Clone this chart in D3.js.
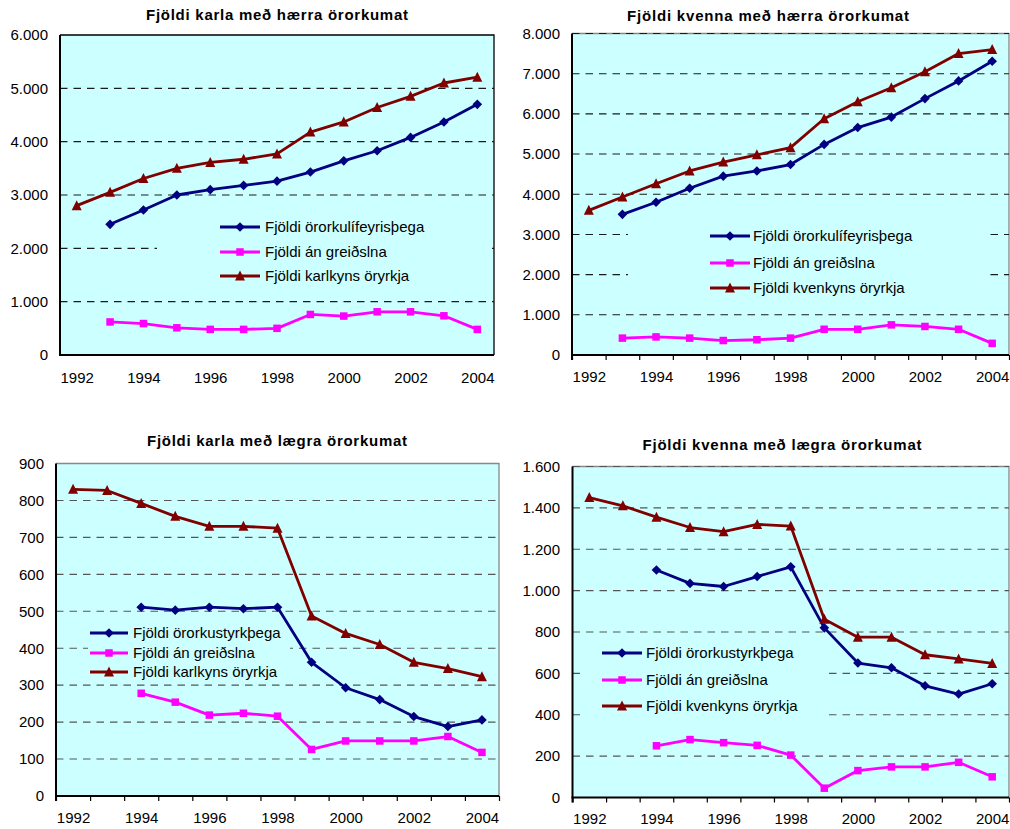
<!DOCTYPE html>
<html><head><meta charset="utf-8">
<script src="https://cdn.jsdelivr.net/npm/d3@7"></script>
<style>body{margin:0;background:#fff}svg{display:block}text{font-family:"Liberation Sans",Arial,sans-serif}</style>
</head><body>
<script>
// ---- data ----
const years = [1992,1993,1994,1995,1996,1997,1998,1999,2000,2001,2002,2003,2004];
const xLabelYears = [1992,1994,1996,1998,2000,2002,2004];

const titles = [
  "Fjöldi karla með hærra örorkumat",
  "Fjöldi kvenna með hærra örorkumat",
  "Fjöldi karla með lægra örorkumat",
  "Fjöldi kvenna með lægra örorkumat"
];
const legendKarlHaerra = ["Fjöldi örorkulífeyrisþega","Fjöldi án greiðslna","Fjöldi karlkyns öryrkja"];
const legendKvenHaerra = ["Fjöldi örorkulífeyrisþega","Fjöldi án greiðslna","Fjöldi kvenkyns öryrkja"];
const legendKarlLaegra = ["Fjöldi örorkustyrkþega","Fjöldi án greiðslna","Fjöldi karlkyns öryrkja"];
const legendKvenLaegra = ["Fjöldi örorkustyrkþega","Fjöldi án greiðslna","Fjöldi kvenkyns öryrkja"];

// Panel 1: karlar, hærra örorkumat
const karlHaerraLifeyri = [null,2450,2720,3000,3100,3180,3260,3430,3640,3830,4080,4370,4700];
const karlHaerraAnGreidslna = [null,620,590,510,480,480,500,760,730,810,810,735,480];
const karlHaerraOryrkjar = [2800,3050,3310,3500,3610,3670,3770,4180,4370,4640,4850,5100,5210];
// Panel 2: konur, hærra örorkumat
const kvenHaerraLifeyri = [null,3500,3800,4150,4450,4580,4740,5240,5660,5920,6380,6820,7310];
const kvenHaerraAnGreidslna = [null,420,450,420,360,380,420,640,640,750,710,640,290];
const kvenHaerraOryrkjar = [3600,3930,4260,4580,4800,4980,5160,5880,6300,6650,7050,7500,7600];
// Panel 3: karlar, lægra örorkumat
const karlLaegraStyrk = [null,null,511,503,511,507,511,362,293,261,215,188,206];
const karlLaegraAnGreidslna = [null,null,278,254,219,224,216,126,149,149,149,161,118];
const karlLaegraOryrkjar = [830,827,792,757,730,730,725,487,440,410,362,345,323];
// Panel 4: konur, lægra örorkumat
const kvenLaegraStyrk = [null,null,1100,1035,1020,1068,1115,820,650,627,540,500,550];
const kvenLaegraAnGreidslna = [null,null,250,280,265,252,205,45,130,148,148,170,100];
const kvenLaegraOryrkjar = [1450,1410,1355,1305,1285,1320,1312,862,775,775,690,670,648];

const yMax = [6000, 8000, 900, 1600];
const yStep = [1000, 1000, 100, 200];

// ---- styles ----
const colors = ["#000080","#FF00FF","#800000"];

// ---- layout ----
const layout = [
  {x0:60, x1:494, y0:35, y1:355, tcx:277, tby:20, tlen:262, ylr:48, xlb:383, xticks:false, border:"#000", topGrid:false,
   lg:{bx:157, by:205, bw:331, bh:90, sx0:220, sx1:260, tx:265, rows:[227,252,276]}},
  {x0:572, x1:1009, y0:33.5, y1:355, tcx:768, tby:20.5, tlen:282, ylr:560, xlb:382, xticks:true, border:"#888", topGrid:true,
   lg:{bx:628, by:214, bw:362, bh:88, sx0:710, sx1:750, tx:753, rows:[236,263,288]}},
  {x0:56, x1:499, y0:463.5, y1:796, tcx:277, tby:446, tlen:260, ylr:44, xlb:823, xticks:true, border:"#888", topGrid:false,
   lg:{bx:88, by:621, bw:202, bh:62, sx0:90, sx1:128, tx:133, rows:[633,653,672]}},
  {x0:572.5, x1:1009, y0:466.5, y1:797.5, tcx:782, tby:450, tlen:279, ylr:560, xlb:824, xticks:true, border:"#888", topGrid:true,
   lg:{bx:582, by:641, bw:243, bh:78, sx0:602, sx1:642, tx:646, rows:[653,680,706]}}
];

const panelSeries = [
  [karlHaerraLifeyri, karlHaerraAnGreidslna, karlHaerraOryrkjar],
  [kvenHaerraLifeyri, kvenHaerraAnGreidslna, kvenHaerraOryrkjar],
  [karlLaegraStyrk, karlLaegraAnGreidslna, karlLaegraOryrkjar],
  [kvenLaegraStyrk, kvenLaegraAnGreidslna, kvenLaegraOryrkjar]
];
const panelLegends = [legendKarlHaerra, legendKvenHaerra, legendKarlLaegra, legendKvenLaegra];

const fmt = d3.formatLocale({decimal:",", thousands:".", grouping:[3], currency:["",""]}).format(",d");

const svg = d3.select("body").append("svg").attr("width",1010).attr("height",829);

function marker(g, i, x, y){
  if(i===0){ // diamond
    const r=4.8;
    g.append("path").attr("d",`M${x},${y-r}L${x+r},${y}L${x},${y+r}L${x-r},${y}Z`).attr("fill",colors[0]);
  } else if(i===1){ // square
    const s=7.5;
    g.append("rect").attr("x",x-s/2).attr("y",y-s/2).attr("width",s).attr("height",s).attr("fill",colors[1]);
  } else { // triangle
    const w=10, h=9;
    g.append("path").attr("d",`M${x},${y-h/2-1}L${x+w/2},${y+h/2}L${x-w/2},${y+h/2}Z`).attr("fill",colors[2]);
  }
}

layout.forEach((L,p)=>{
  const g = svg.append("g");
  const x = d3.scaleLinear().domain([years[0]-0.5, years[years.length-1]+0.5]).range([L.x0, L.x1]);
  const y = d3.scaleLinear().domain([0, yMax[p]]).range([L.y1, L.y0]);
  const yt = d3.range(0, yMax[p]+1, yStep[p]);

  // plot background
  g.append("rect").attr("x",L.x0).attr("y",L.y0).attr("width",L.x1-L.x0).attr("height",L.y1-L.y0)
    .attr("fill","#CCFFFF");
  // border top/right
  g.append("path").attr("d",`M${L.x0},${L.y0}H${L.x1}V${L.y1}`).attr("fill","none")
    .attr("stroke",L.border).attr("stroke-width",1.3);
  // gridlines
  const gridVals = yt.filter(v=>v>0 && (L.topGrid || v<yMax[p]));
  g.selectAll(".grid").data(gridVals).enter().append("line")
    .attr("x1",L.x0).attr("x2",L.x1).attr("y1",d=>y(d)).attr("y2",d=>y(d))
    .attr("stroke", p<2 ? "#1a1a1a" : "#555").attr("stroke-width",1.1).attr("stroke-dasharray","7.5,6");

  // legend box (hides gridlines)
  const lg = L.lg;
  g.append("rect").attr("x",lg.bx).attr("y",lg.by).attr("width",lg.bw).attr("height",lg.bh).attr("fill","#CCFFFF");

  // y axis labels
  const ya = d3.axisLeft(y).tickValues(yt).tickSize(0).tickPadding(0).tickFormat(fmt);
  const yg = svg.append("g").attr("transform",`translate(${L.ylr},0)`).call(ya);
  yg.select(".domain").remove();
  yg.selectAll("text").attr("font-size",15).attr("fill","#000").attr("font-family","Liberation Sans, Arial, sans-serif");

  // x axis
  const xg = svg.append("g").attr("transform",`translate(0,${L.y1})`);
  if(L.xticks){
    xg.call(d3.axisBottom(x).tickValues(d3.range(years[0]-0.5, years[years.length-1]+0.6, 1)).tickSize(5).tickFormat(""));
    xg.selectAll(".tick line").attr("stroke","#000").attr("stroke-width",1.2);
    xg.select(".domain").remove();
  }
  const xl = svg.append("g").attr("transform",`translate(0,${L.xlb})`)
    .call(d3.axisBottom(x).tickValues(xLabelYears).tickSize(0).tickPadding(0).tickFormat(d3.format("d")));
  xl.select(".domain").remove();
  xl.selectAll("text").attr("font-size",15).attr("fill","#000").attr("dy",0)
    .attr("font-family","Liberation Sans, Arial, sans-serif");

  // axis lines
  g.append("line").attr("x1",L.x0).attr("x2",L.x0).attr("y1",L.y0).attr("y2",L.y1+ (L.xticks?5:0)).attr("stroke","#000").attr("stroke-width",2);
  g.append("line").attr("x1",L.x0-1).attr("x2",L.x1).attr("y1",L.y1).attr("y2",L.y1).attr("stroke","#000").attr("stroke-width",2);

  // series
  const line = d3.line().defined(d=>d.v!=null).x(d=>x(d.yr)).y(d=>y(d.v));
  const order = [1,0,2];
  order.forEach(i=>{
    const data = years.map((yr,k)=>({yr, v:panelSeries[p][i][k]}));
    g.append("path").datum(data).attr("d",line).attr("fill","none").attr("stroke",colors[i]).attr("stroke-width",2.8).attr("stroke-linejoin","round");
    data.filter(d=>d.v!=null).forEach(d=>marker(g,i,x(d.yr),y(d.v)));
  });

  // legend
  panelLegends[p].forEach((t,i)=>{
    const ry = lg.rows[i];
    g.append("line").attr("x1",lg.sx0).attr("x2",lg.sx1).attr("y1",ry).attr("y2",ry).attr("stroke",colors[i]).attr("stroke-width",2.8);
    marker(g,i,(lg.sx0+lg.sx1)/2,ry);
    g.append("text").attr("x",lg.tx).attr("y",ry).attr("dy","0.35em").attr("font-size",15).attr("fill","#000").text(t);
  });

  // title
  svg.append("text").attr("x",L.tcx).attr("y",L.tby).attr("text-anchor","middle")
    .attr("font-size",15).attr("font-weight","bold").attr("fill","#000")
    .attr("textLength",L.tlen).attr("lengthAdjust","spacing").text(titles[p]);
});
</script>
</body></html>
